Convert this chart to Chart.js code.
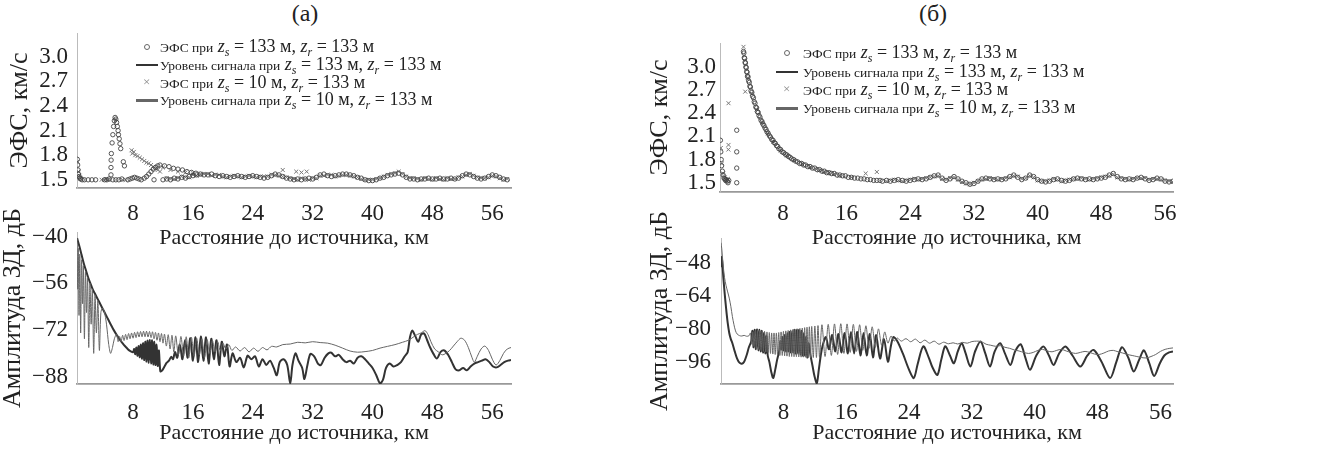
<!DOCTYPE html>
<html>
<head>
<meta charset="utf-8">
<script src="https://cdn.jsdelivr.net/npm/chart.js@4"></script>
<style>
  body { margin: 0; background: #fff; width: 1325px; height: 456px; position: relative; overflow: hidden;
         font-family: "Liberation Serif", "Times New Roman", serif; color: #222; }
  canvas { position: absolute; }
  .ptitle { position: absolute; width: 80px; text-align: center; font-size: 24px; top: 0; }
  .row { position: absolute; white-space: nowrap; font-size: 18px; line-height: 20px; height: 20px; }
  .row .sm { font-size: 13.5px; }
  .row sub { font-size: 12px; line-height: 0; vertical-align: -0.3em; }
  .mk { position: absolute; }
</style>
</head>
<body>
<div class="ptitle" style="left:265px">(а)</div>
<div class="ptitle" style="left:893px">(б)</div>

<canvas id="topA"></canvas>
<canvas id="botA"></canvas>
<canvas id="topB"></canvas>
<canvas id="botB"></canvas>

<div id="legA"></div>
<div id="legB"></div>

<script>
// оси
const xTicks = [8, 16, 24, 32, 40, 48, 56];
const efsTicks = [1.5, 1.8, 2.1, 2.4, 2.7, 3.0];
const ampTicksA = [-88, -72, -56, -40];
const ampTicksB = [-96, -80, -64, -48];

const legendLabels = [
  ['ЭФС при', '133'],
  ['Уровень сигнала при', '133'],
  ['ЭФС при', '10'],
  ['Уровень сигнала при', '10']
];

// (а) ЭФС, zs = 133 м  [км, км/с]
const efsA133 = [
  [0.55,1.75],[0.6,1.68],[0.65,1.62],[0.7,1.57],[0.8,1.54],[0.9,1.52],[1.0,1.51],[1.2,1.5],[1.5,1.5],
  [2.0,1.5],[2.5,1.5],[3.0,1.5],[4.2,1.5],[4.5,1.5],[4.8,1.51],[5.3,1.5],[5.7,1.5],[6.1,1.5],[6.5,1.51],
  [5.05,1.56],[5.05,1.65],[5.07,1.74],[5.1,1.82],[5.2,1.95],[5.3,2.05],[5.4,2.15],[5.5,2.22],[5.6,2.26],
  [5.7,2.24],[5.8,2.2],[5.9,2.15],[6.0,2.1],[6.05,2.05],[6.15,2.0],[6.25,1.94],[6.35,1.88],[6.7,1.72],[6.85,1.67],
  [7.3,1.5],[7.6,1.51],[7.9,1.52],[8.2,1.53],[8.5,1.52],[8.8,1.51],[9.1,1.5],[9.5,1.52],[10.8,1.5],
  [9.8,1.54],[10.1,1.57],[10.4,1.6],[10.7,1.63],[11.0,1.65],[11.3,1.67],[11.6,1.68],
  [12.2,1.67],[12.8,1.66],[13.4,1.64],[14.0,1.63],[14.6,1.62],[15.2,1.6],[15.8,1.59],[16.4,1.58],
  [12.0,1.5],[12.5,1.51],[13.0,1.5],[13.5,1.52],[14.0,1.51],[14.5,1.53],[15.0,1.52],[15.5,1.54],
  [16.0,1.55],[16.5,1.56],[17.0,1.57],[17.5,1.56],[18.0,1.56],[18.5,1.57],[19.0,1.55],[19.5,1.54],
  [20.0,1.55],[20.5,1.54],[21.0,1.53],[21.5,1.54],[22.0,1.55],[22.5,1.54],[23.0,1.53],[23.5,1.54],
  [24.0,1.55],[24.5,1.54],[25.0,1.53],[25.5,1.52],[26.0,1.53],[26.5,1.55],[27.0,1.57],[27.5,1.56],
  [28.0,1.54],[28.5,1.52],[29.0,1.51],[29.5,1.5],[30.0,1.51],[30.5,1.5],[31.0,1.51],[31.5,1.52],
  [32.0,1.51],[32.5,1.53],[33.0,1.56],[33.5,1.57],[34.0,1.55],[34.5,1.54],[35.0,1.55],[35.5,1.56],
  [36.0,1.57],[36.5,1.57],[37.0,1.56],[37.5,1.55],[38.0,1.53],[38.5,1.52],[39.0,1.5],[39.5,1.49],
  [40.0,1.49],[40.5,1.5],[41.0,1.52],[41.5,1.53],[42.0,1.55],[42.5,1.56],[43.0,1.57],[43.5,1.58],
  [44.0,1.56],[44.5,1.53],[45.0,1.51],[45.5,1.51],[46.0,1.5],[46.5,1.51],[47.0,1.51],[47.5,1.52],
  [48.0,1.51],[48.5,1.51],[49.0,1.52],[49.5,1.51],[50.0,1.51],[50.5,1.52],[51.0,1.51],[51.5,1.52],
  [52.0,1.55],[52.5,1.57],[53.0,1.56],[53.5,1.54],[54.0,1.52],[54.5,1.51],[55.0,1.52],[55.5,1.54],
  [56.0,1.56],[56.5,1.55],[57.0,1.53],[57.5,1.51],[58.0,1.5]
];

// (а) ЭФС, zs = 10 м
const efsA10 = [
  [0.6,1.72],[0.7,1.6],[0.85,1.55],[1.0,1.52],[3.8,1.5],[4.1,1.5],[4.4,1.51],[4.7,1.5],[6.6,1.5],[7.0,1.5],
  [7.8,1.86],[7.9,1.82],[8.1,1.84],[8.3,1.8],[8.6,1.79],[8.9,1.77],[9.2,1.75],[9.5,1.73],[9.8,1.71],
  [10.1,1.7],[10.4,1.68],[10.7,1.66],[11.0,1.64],[11.3,1.62],[11.6,1.6],[12.0,1.65],[13.0,1.62],
  [14.0,1.6],[15.0,1.59],[16.0,1.58],[17.0,1.57],
  [28.0,1.62],[29.8,1.6],[30.5,1.59],[31.2,1.6],
  [12.5,1.52],[13.5,1.51],[14.5,1.54],[15.5,1.53],[16.5,1.55],[17.5,1.57],[18.5,1.55],[19.5,1.56],
  [20.5,1.53],[21.5,1.55],[22.5,1.53],[23.5,1.55],[24.5,1.53],[25.5,1.54],[26.5,1.56],[27.5,1.55],
  [28.5,1.53],[29.5,1.51],[30.5,1.52],[31.5,1.5],[32.5,1.52],[33.5,1.55],[34.5,1.56],[35.5,1.55],
  [36.5,1.56],[37.5,1.54],[38.5,1.51],[39.5,1.5],[40.5,1.51],[41.5,1.54],[42.5,1.57],[43.5,1.6],
  [44.5,1.54],[45.5,1.52],[46.5,1.5],[47.5,1.51],[48.5,1.52],[49.5,1.5],[50.5,1.51],[51.5,1.53],
  [52.5,1.56],[53.5,1.55],[54.5,1.52],[55.5,1.53],[56.5,1.54],[57.5,1.5],
  [13,1.51],[14,1.52],[15,1.53],[16,1.56],[17,1.56],[18,1.57],[19,1.56],[20,1.54],[21,1.54],[22,1.54],
  [23,1.54],[24,1.54],[25,1.54],[26,1.54],[27,1.56],[28,1.54],[29,1.52],[30,1.5],[31,1.51],[32,1.52],
  [33,1.55],[34,1.56],[35,1.54],[36,1.56],[37,1.55],[38,1.53],[39,1.5],[40,1.5],[41,1.52],[42,1.56],
  [43,1.58],[44,1.57],[45,1.52],[46,1.51],[47,1.52],[48,1.5],[49,1.51],[50,1.52],[51,1.51],[52,1.54],
  [53,1.57],[54,1.53],[55,1.52],[56,1.55],[57,1.52],[58,1.51]
];

// (а) уровень сигнала, zs = 133 м  [км, дБ]
const sigA133 = [
  [0.52,-40.5],[0.6,-58],[0.68,-44],[0.78,-67],[0.88,-46],[1.0,-73],[1.12,-48],[1.24,-63],[1.36,-50],
  [1.5,-75],[1.64,-52],[1.78,-66],[1.92,-54],[2.08,-78],[2.24,-56],[2.4,-70],[2.56,-58],[2.74,-80],
  [2.92,-60],[3.1,-73],[3.3,-62],[3.5,-79],[3.7,-66],[3.9,-64.5],[4.15,-65.5],[4.45,-70],[4.75,-77],
  [5.0,-80],[5.25,-78],[5.5,-75],[5.8,-73.5],
  [6.0,-76],[6.2,-74.2],[6.4,-76],[6.6,-73.8],[6.8,-75.6],[7.0,-73.5],[7.2,-75.3],[7.4,-73.2],[7.6,-75],
  [7.8,-73],[8.0,-74.8],[8.2,-72.8],[8.4,-74.6],[8.6,-72.6],[8.8,-74.4],[9.0,-72.5],[9.2,-74.3],[9.4,-72.4],
  [9.6,-74.3],[9.8,-72.4],[10.0,-74.4],[10.2,-72.5],[10.4,-74.6],[10.6,-72.6],[10.8,-75],[11.0,-72.8],
  [11.2,-75.5],[11.4,-73],[11.6,-76],[11.8,-73.2],[12.0,-76.5],[12.2,-73.4],[12.45,-77.5],[12.7,-73.6],
  [12.95,-78.5],[13.2,-73.8],[13.45,-79.5],[13.7,-74],
  [14.05,-80.5],[14.4,-74.2],[14.75,-81],[15.1,-74.3],[15.45,-81.5],[15.8,-74.5],[16.15,-81],[16.5,-74.8],
  [16.85,-80.5],[17.2,-75],[17.55,-81.5],[17.9,-75.3],[18.25,-80],[18.6,-75.6],[18.95,-79.5],[19.3,-76],
  [19.65,-79],[20.0,-76.5],[20.4,-78.5],[20.8,-77],[21.2,-79],
  [21.7,-77.8],[22.3,-79.2],[22.9,-78],[23.5,-79.5],[24.1,-78.2],[24.7,-79.3],[25.3,-78],[25.9,-78.8],
  [26.5,-77.6],[27.2,-77.8],[28,-77],[29,-76.8],[30,-76.2],[31,-76.4],[32,-76],[33,-76.3],[34,-76.5],
  [35,-77.2],[36,-78.2],[37,-79.2],[38,-79.6],[39,-79.4],[40,-79],[41,-78.2],[42,-77.6],[43,-77],
  [44,-76.2],[44.8,-75.5],[45.4,-74.5],[46,-73.5],[46.5,-73],[47,-72.2],[47.4,-73.5],[47.8,-76],
  [48.3,-78.5],[48.8,-79.5],[49.3,-80.5],[49.8,-80],[50.3,-79],[50.8,-77.5],[51.3,-76],[51.8,-74.8],
  [52.3,-75.5],[52.8,-78],[53.3,-81.5],[53.6,-83],[54.0,-81],[54.5,-78.5],[55.0,-77.5],[55.5,-79],
  [56.0,-82],[56.5,-84],[57.0,-82.5],[57.5,-80],[58.0,-78.5],[58.5,-78]
];

// (а) уровень сигнала, zs = 10 м
const sigA10 = [
  [0.52,-40.5],[0.8,-43],[1.1,-46],[1.4,-49],[1.7,-51.5],[2.0,-54],[2.3,-56],[2.6,-58],[2.9,-59.5],
  [3.2,-61],[3.5,-62.5],[3.8,-64],[4.1,-65.5],[4.4,-67],[4.7,-68.5],[5.0,-70],[5.3,-71.5],[5.6,-72.8],
  [5.9,-74],[6.2,-75.2],[6.5,-76.2],[6.8,-77.2],[7.1,-78],[7.4,-78.8],[7.7,-79.3],[8.0,-79.6],
  [8.15,-78.5],[8.3,-80.3],[8.45,-78],[8.6,-80.8],[8.75,-77.5],[8.9,-81.3],[9.05,-77],[9.2,-81.8],
  [9.35,-76.5],[9.5,-82.3],[9.65,-76],[9.8,-82.8],[9.95,-75.6],[10.1,-83.2],[10.25,-75.4],[10.4,-83.5],
  [10.55,-75.5],[10.7,-83.8],[10.85,-76],[11.0,-84],[11.15,-77],[11.3,-84.3],[11.45,-79],
  [11.65,-86.2],[11.9,-85.8],[12.2,-84.5],[12.5,-83.2],[12.8,-82.5],[13.1,-81.2],[13.35,-82],[13.6,-79.5],
  [13.9,-81.5],[14.25,-77],[14.6,-82],[14.95,-75.5],[15.3,-81.5],[15.65,-74.8],[16.0,-82.5],[16.35,-74.5],
  [16.7,-83],[17.05,-74.2],[17.4,-82.5],[17.75,-74.5],[18.1,-83.5],[18.45,-75],[18.8,-82],[19.15,-75.5],
  [19.5,-84],[19.85,-76],[20.2,-81],[20.55,-77],[20.9,-84.5],
  [21.3,-80],[21.8,-83],[22.3,-81.5],[22.8,-84.8],[23.3,-80.8],[23.8,-82],[24.3,-81],[24.8,-84.5],
  [25.3,-82],[25.8,-84],[26.3,-82.5],[26.8,-85],[27.2,-87.5],[27.6,-83],[28.1,-82],[28.6,-84],[29.0,-90.3],
  [29.3,-84],[29.7,-80],[30.1,-82.5],[30.6,-85],[30.9,-88.8],[31.3,-84],[31.7,-80.2],[32.2,-81],[32.7,-83.5],
  [33.1,-84],[33.6,-81.5],[34.1,-80],[34.5,-79.8],[35.0,-81],[35.5,-80.5],[36.0,-82],[36.5,-83],[37.0,-82.5],
  [37.5,-83.5],[38.0,-81.5],[38.5,-81],[39.0,-82],[39.5,-83.5],[40.0,-85],[40.5,-87.5],[41.0,-90.3],
  [41.4,-89],[41.8,-85],[42.3,-83.5],[42.8,-84.5],[43.3,-84],[43.8,-83],[44.3,-81],[44.7,-79.5],[45.0,-74.5],
  [45.3,-72.2],[45.7,-74],[46.1,-76],[46.5,-73.5],[46.9,-73.2],[47.3,-75.5],[47.7,-78],[48.1,-80],
  [48.6,-81.8],[49.1,-79.5],[49.6,-79],[50.1,-80.5],[50.6,-83],[51.1,-85.5],[51.6,-85.8],[52.1,-85],
  [52.6,-85.8],[53.1,-84.5],[53.6,-83.5],[54.1,-83],[54.6,-82.5],[55.1,-82],[55.6,-83],[56.1,-84.5],
  [56.6,-84.8],[57.1,-84],[57.6,-83],[58.1,-82.5],[58.5,-82.3]
];

// (б) ЭФС, zs = 133 м
const efsB133 = [
  [0.15,2.05],[0.2,1.9],[0.25,1.8],[0.3,1.72],[0.4,1.65],[0.5,1.6],[0.6,1.56],[0.7,1.55],[0.8,1.53],
  [0.9,1.54],[1.0,1.52],[1.1,1.5],[1.2,1.53],
  [2.2,2.18],[2.2,1.9],[2.2,1.69],[2.2,1.5],
  [3.05,3.2],[3.15,3.12],[3.25,3.06],[3.35,3.0],[3.45,2.94],[3.55,2.88],[3.7,2.82],[3.85,2.75],[4.0,2.69],
  [4.2,2.62],[4.4,2.55],[4.6,2.48],[4.8,2.42],[5.0,2.37],[5.25,2.31],[5.5,2.26],[5.75,2.21],[6.0,2.16],
  [6.3,2.11],[6.6,2.06],[6.9,2.02],[7.2,1.98],[7.5,1.94],[7.9,1.9],[8.3,1.87],[8.7,1.84],[9.1,1.81],
  [9.6,1.78],[10.1,1.75],[10.6,1.73],[11.1,1.71],[11.7,1.69],[12.3,1.67],[12.9,1.65],[13.5,1.63],
  [14.1,1.62],[14.8,1.6],[15.5,1.59],[16.2,1.57],[17.0,1.56],[17.8,1.55],[18.6,1.54],[19.4,1.53],[20.2,1.53],
  [3.1,3.18],[3.2,3.11],[3.3,3.05],[3.4,2.99],[3.5,2.93],[3.62,2.87],[3.78,2.8],[3.92,2.74],[4.1,2.67],
  [4.3,2.6],[4.5,2.53],[4.7,2.47],[4.9,2.41],[5.12,2.35],[5.38,2.29],[5.62,2.24],[5.88,2.19],[6.15,2.14],
  [6.45,2.09],[6.75,2.05],[7.05,2.01],[7.35,1.97],[7.7,1.93],[8.1,1.89],[8.5,1.86],[8.9,1.83],[9.35,1.8],
  [9.85,1.77],[10.35,1.75],[10.85,1.73],[11.4,1.71],[12.0,1.69],[12.6,1.67],[13.2,1.65],[13.8,1.63],
  [14.45,1.62],[15.15,1.6],[15.85,1.59],[16.6,1.57],[17.4,1.56],[18.2,1.55],[19.0,1.54],[19.8,1.53],
  [20.5,1.52],[21,1.53],[21.5,1.52],[22,1.53],[22.5,1.54],[23,1.53],[23.5,1.52],[24,1.53],[24.5,1.54],
  [25,1.55],[25.5,1.54],[26,1.55],[26.5,1.57],[27,1.59],[27.5,1.6],[28,1.56],[28.5,1.53],[29,1.55],
  [29.5,1.58],[30,1.55],[30.5,1.52],[31,1.5],[31.5,1.48],[32,1.49],[32.5,1.52],[33,1.55],[33.5,1.56],
  [34,1.55],[34.5,1.54],[35,1.55],[35.5,1.54],[36,1.55],[36.5,1.58],[37,1.6],[37.5,1.57],[38,1.54],
  [38.5,1.56],[39,1.6],[39.5,1.58],[40,1.54],[40.5,1.52],[41,1.51],[41.5,1.52],[42,1.54],[42.5,1.55],
  [43,1.53],[43.5,1.52],[44,1.53],[44.5,1.55],[45,1.56],[45.5,1.55],[46,1.54],[46.5,1.55],[47,1.54],
  [47.5,1.55],[48,1.56],[48.5,1.57],[49,1.6],[49.5,1.62],[50,1.58],[50.5,1.55],[51,1.54],[51.5,1.55],
  [52,1.54],[52.5,1.56],[53,1.57],[53.5,1.55],[54,1.53],[54.5,1.54],[55,1.56],[55.5,1.55],[56,1.52],
  [56.5,1.51],[57,1.52]
];

// (б) ЭФС, zs = 10 м
const efsB10 = [
  [0.2,1.95],[0.35,1.75],[0.5,1.62],[0.7,1.57],[0.9,1.53],[1.1,1.55],
  [1.17,2.53],[1.17,1.99],[1.15,1.93],[3.05,3.26],[3.27,2.68],
  [3.6,2.86],[4.1,2.65],[4.7,2.45],[5.4,2.28],[6.1,2.14],[6.8,2.03],[7.7,1.92],[8.5,1.85],[9.4,1.79],
  [10.4,1.74],[11.4,1.7],[12.6,1.66],[13.2,1.64],[13.8,1.63],[14.4,1.61],[15.1,1.59],[16.6,1.57],
  [18.4,1.62],[19.8,1.64],
  [21,1.52],[22,1.54],[23,1.52],[24,1.54],[25,1.54],[26,1.56],[27,1.58],[28,1.55],[29,1.56],[30,1.54],
  [31,1.49],[32,1.5],[33,1.54],[34,1.56],[35,1.54],[36,1.56],[37,1.59],[38,1.55],[39,1.59],[40,1.53],
  [41,1.52],[42,1.55],[43,1.52],[44,1.54],[45,1.55],[46,1.55],[47,1.55],[48,1.57],[49,1.59],[50,1.57],
  [51,1.55],[52,1.55],[53,1.56],[54,1.54],[55,1.55],[56,1.53],[57,1.51],
  [21.5,1.53],[22.5,1.53],[23.5,1.53],[24.5,1.55],[25.5,1.55],[26.5,1.57],[27.5,1.59],[28.5,1.54],
  [29.5,1.57],[30.5,1.51],[31.5,1.48],[32.5,1.52],[33.5,1.55],[34.5,1.55],[35.5,1.55],[36.5,1.57],
  [37.5,1.58],[38.5,1.56],[39.5,1.57],[40.5,1.52],[41.5,1.53],[42.5,1.54],[43.5,1.53],[44.5,1.55],
  [45.5,1.56],[46.5,1.54],[47.5,1.56],[48.5,1.58],[49.5,1.61],[50.5,1.56],[51.5,1.54],[52.5,1.56],
  [53.5,1.56],[54.5,1.55],[55.5,1.54],[56.5,1.52]
];

// (б) уровень сигнала, zs = 133 м
const sigB133 = [
  [0.05,-38],[0.15,-41],[0.3,-48],[0.5,-55],[0.7,-59],[0.9,-62],[1.1,-65],[1.3,-69],[1.5,-74],[1.7,-78],
  [1.9,-81],[2.1,-82.5],[2.4,-83.3],[2.7,-83.5],[3.0,-83.2],[3.3,-83.6],[3.6,-83.4],
  [3.8,-82],[3.95,-87.5],[4.1,-81.5],[4.25,-88.5],[4.4,-81],[4.55,-89.5],[4.7,-80.8],[4.85,-90],[5.0,-80.8],
  [5.15,-90.5],[5.3,-81],[5.45,-91],[5.6,-81.2],[5.75,-91.3],[5.9,-81.5],[6.05,-91.5],[6.2,-81.8],[6.35,-92],
  [6.5,-82],[6.65,-92.3],[6.8,-82],[6.95,-92.5],[7.1,-82],[7.25,-92.7],[7.4,-81.8],[7.55,-93],[7.7,-81.5],
  [7.85,-93],[8.0,-81.2],[8.15,-93.2],[8.3,-81],[8.45,-93.3],[8.6,-80.8],[8.75,-93.5],[8.9,-80.5],[9.05,-93.5],
  [9.2,-80.3],[9.35,-93.6],[9.5,-80.2],[9.65,-93.6],[9.8,-80],[9.95,-93.7],[10.1,-79.8],[10.25,-93.8],
  [10.4,-79.6],[10.55,-93.8],[10.7,-79.4],[10.85,-93.9],[11.0,-79.2],[11.15,-94],[11.3,-79],[11.45,-94],
  [11.6,-78.8],[11.8,-94],[12.0,-78.6],[12.2,-94],[12.4,-78.4],[12.6,-94],
  [12.9,-78],[13.3,-93.5],[13.7,-77.8],[14.1,-93],[14.5,-77.6],[14.9,-92.5],[15.3,-77.5],[15.7,-92],
  [16.1,-77.6],[16.5,-91.5],[16.9,-77.8],[17.3,-91],[17.7,-78],[18.1,-90.5],[18.5,-78.5],[18.9,-89.5],
  [19.3,-79],[19.7,-89],[20.1,-80],[20.5,-88],[20.9,-81.5],[21.3,-87],[21.7,-83.5],[22.1,-86],
  [22.5,-84.5],[23.0,-86],[23.6,-84.8],[24.2,-86.3],[24.8,-85],[25.4,-86.8],[26.0,-85.5],[26.6,-87],
  [27.2,-86],[27.8,-87.5],[28.4,-86.5],[29.0,-87.3],[29.6,-86.8],[30.2,-87.4],[30.8,-86.6],[31.4,-87],
  [32.0,-86.2],[32.6,-86],[33.2,-86.2],[33.8,-87.5],[34.4,-88],[35.0,-88.5],[35.6,-88.2],[36.2,-89],
  [36.8,-89.5],[37.4,-90.3],[38.0,-90.8],[38.6,-91.5],[39.2,-92],[39.8,-91.5],[40.4,-90.5],[41.0,-90],
  [41.6,-90.8],[42.2,-91.2],[42.8,-90.5],[43.4,-90],[44.0,-90.8],[44.6,-91.5],[45.2,-92],[45.8,-91.5],
  [46.4,-91],[47.0,-91.5],[47.6,-92.3],[48.2,-92.5],[48.8,-91.8],[49.4,-90.8],[50.0,-90.5],[50.6,-91.2],
  [51.2,-91.8],[51.8,-92.5],[52.4,-93],[53.0,-93.5],[53.6,-94],[54.2,-94.2],[54.8,-93.5],[55.4,-92.5],
  [56.0,-91],[56.6,-90],[57.2,-89.5],[57.6,-89.3]
];

// (б) уровень сигнала, zs = 10 м
const sigB10 = [
  [0.05,-50],[0.1,-45],[0.2,-47],[0.35,-55],[0.5,-62],[0.7,-70],[0.9,-77],[1.1,-82],[1.3,-85],[1.5,-87],
  [1.8,-91],[2.1,-94.5],[2.4,-96.5],[2.7,-97],[3.0,-96],[3.3,-93],[3.6,-89],[3.9,-86],
  [4.05,-81],[4.2,-89],[4.35,-80.5],[4.5,-90],[4.65,-80.3],[4.8,-90.5],[4.95,-80.5],[5.1,-91],[5.25,-81],
  [5.4,-91.5],[5.55,-82],[5.7,-92],[5.85,-83.5],[6.0,-93],
  [6.2,-96],[6.45,-101],[6.7,-104],[6.95,-100],[7.2,-95],[7.45,-91],
  [7.6,-86],[7.75,-90],[7.9,-84],[8.05,-90.5],[8.2,-83],[8.35,-91],[8.5,-82],[8.65,-91],[8.8,-81.5],
  [8.95,-91.5],[9.1,-81],[9.25,-91.5],[9.4,-80.5],[9.55,-92],[9.7,-80.3],[9.85,-92],[10.0,-80.5],
  [10.15,-92.5],[10.3,-81],[10.45,-93],[10.6,-82],[10.75,-93],[10.9,-84],[11.05,-94],[11.2,-87],
  [11.45,-93],[11.7,-98],[11.95,-103],[12.25,-106.5],[12.5,-100],[12.75,-93],[13.0,-88],
  [13.4,-84],[13.8,-90],[14.2,-83],[14.6,-91],[15.0,-82.5],[15.4,-91.5],[15.8,-82],[16.2,-92],[16.6,-81.5],
  [17.0,-92],[17.4,-81.5],[17.8,-93],[18.2,-82],[18.6,-93],[19.0,-82.5],[19.4,-94],[19.8,-83],[20.3,-94.5],
  [20.8,-85],[21.3,-96],[21.7,-88],[22.0,-84],
  [22.5,-86],[23.2,-92],[24.0,-100],[24.6,-104],[25.1,-97],[25.8,-88.5],[26.5,-94],[27.0,-99],[27.6,-102.5],
  [28.1,-95],[28.6,-88.5],[29.2,-93],[29.7,-96.8],[30.2,-91],[30.7,-87],[31.2,-92],[31.8,-98.4],[32.4,-91],
  [33.1,-86.2],[33.7,-92],[34.3,-98.4],[34.9,-91],[35.6,-87],[36.2,-92],[36.9,-97.6],[37.5,-91],[38.2,-87.5],
  [38.8,-94],[39.4,-100],[40.2,-93],[41.1,-88.6],[41.8,-93],[42.4,-97.6],[43.1,-92],[43.9,-88.6],[44.8,-93],
  [45.8,-98.4],[46.7,-93],[47.5,-90.3],[48.5,-96],[49.6,-104],[50.4,-96],[51.1,-89],[51.9,-94],[52.6,-100.8],
  [53.3,-95],[53.9,-90.5],[54.6,-97],[55.2,-103],[55.9,-97],[56.5,-93],[57.1,-91.5],[57.6,-91]
];

const FONT = '"Liberation Serif", "Times New Roman", serif';
const pts = arr => arr.map(p => ({ x: p[0], y: p[1] }));

function circles(arr) {
  return { data: pts(arr), showLine: false, pointStyle: 'circle', pointRadius: 2.2,
           borderColor: '#444', borderWidth: 0.9, backgroundColor: 'rgba(0,0,0,0)' };
}
function crosses(arr) {
  return { data: pts(arr), showLine: false, pointStyle: 'crossRot', pointRadius: 2.8,
           borderColor: '#777', borderWidth: 1, backgroundColor: 'rgba(0,0,0,0)' };
}
function line(arr, color, w) {
  return { data: pts(arr), showLine: true, pointRadius: 0, borderColor: color, borderWidth: w,
           tension: 0.3, fill: false };
}

function build(id, g, datasets) {
  const cv = document.getElementById(id);
  const [L, T, W, H] = g.box;
  const [aL, aT, aR, aB] = g.area;
  cv.style.left = L + 'px';
  cv.style.top = T + 'px';
  cv.width = W;
  cv.height = H;
  return new Chart(cv, {
    type: 'scatter',
    data: { datasets },
    options: {
      responsive: false,
      animation: false,
      events: [],
      layout: { padding: { left: 0, top: aT - T, right: L + W - aR, bottom: 0 } },
      plugins: { legend: { display: false }, tooltip: { enabled: false } },
      scales: {
        x: {
          type: 'linear', min: g.x[0], max: g.x[1],
          afterFit: s => { s.height = T + H - aB; },
          afterBuildTicks: s => { s.ticks = xTicks.map(v => ({ value: v })); },
          grid: { display: false, drawTicks: false },
          border: { display: true, color: '#999', width: 1.8 },
          ticks: { padding: g.xPad, color: '#222', autoSkip: false, maxRotation: 0,
                   font: { family: FONT, size: 23 } },
          title: { display: true, text: 'Расстояние до источника, км', color: '#222',
                   font: { family: FONT, size: 22 }, padding: { top: 0, bottom: g.xTitlePad } }
        },
        y: {
          type: 'linear', min: g.y[0], max: g.y[1],
          afterFit: s => { s.width = aL - L; },
          afterBuildTicks: s => { s.ticks = g.yTicks.map(v => ({ value: v })); },
          grid: { display: false, drawTicks: false },
          border: { display: true, color: '#bbb', width: 1 },
          ticks: { padding: g.yPad, color: '#222', autoSkip: false, callback: g.fmt,
                   font: { family: FONT, size: 23 } },
          title: { display: true, text: g.yTitle, color: '#222',
                   font: { family: FONT, size: 26, lineHeight: 1 }, padding: { top: g.yTitlePad, bottom: 0 } }
        }
      }
    }
  });
}

const fmtEfs = v => v.toFixed(1);
const fmtAmp = v => (v < 0 ? '\u2212' : '') + Math.abs(v);

build('topA', { box: [0, 0, 525, 252], area: [77, 33, 511, 188], x: [0.51, 58.5], y: [1.40, 3.29],
  yTicks: efsTicks, fmt: fmtEfs, yTitle: 'ЭФС, км/с', xPad: 12, yPad: 9, xTitlePad: 1, yTitlePad: 7 },
  [circles(efsA133), crosses(efsA10)]);

build('botA', { box: [0, 196, 525, 260], area: [77, 232, 511, 384], x: [0.51, 58.5], y: [-90.5, -38.4],
  yTicks: ampTicksA, fmt: fmtAmp, yTitle: 'Амплитуда ЗД, дБ', xPad: 15, yPad: 9, xTitlePad: 10, yTitlePad: 0 },
  [line(sigA133, '#666', 1), line(sigA10, '#333', 2)]);

build('topB', { box: [636, 0, 689, 252], area: [720, 43, 1173, 192], x: [0.1, 57.0], y: [1.38, 3.31],
  yTicks: efsTicks, fmt: fmtEfs, yTitle: 'ЭФС, км/с', xPad: 8, yPad: 4, xTitlePad: 1, yTitlePad: 11 },
  [circles(efsB133), crosses(efsB10)]);

build('botB', { box: [636, 196, 689, 260], area: [721, 238, 1173, 384], x: [0.05, 57.6], y: [-106.9, -35.7],
  yTicks: ampTicksB, fmt: fmtAmp, yTitle: 'Амплитуда ЗД, дБ', xPad: 15, yPad: 10, xTitlePad: 10, yTitlePad: 11 },
  [line(sigB133, '#666', 1), line(sigB10, '#333', 2)]);

// легенды
function legend(el, markX, textX, rowsY) {
  const kinds = ['circle', 'thin', 'cross', 'thick'];
  let html = '';
  legendLabels.forEach((lab, i) => {
    const y = rowsY[i];
    let mk = '';
    if (kinds[i] === 'circle') {
      mk = `<span class="mk" style="left:${markX - 3}px;top:${y - 3}px;width:4px;height:4px;border:1px solid #666;border-radius:50%"></span>`;
    } else if (kinds[i] === 'cross') {
      mk = `<span class="mk" style="left:${markX - 4}px;top:${y - 9}px;font-size:13px;line-height:16px;color:#888">×</span>`;
    } else {
      const h = kinds[i] === 'thin' ? 1.5 : 3;
      mk = `<span class="mk" style="left:${markX - 11}px;top:${y - h / 2}px;width:22px;height:${h}px;background:${kinds[i] === 'thin' ? '#333' : '#666'}"></span>`;
    }
    html += mk + `<div class="row" style="left:${textX}px;top:${y - 11}px"><span class="sm">${lab[0]}</span> ` +
      `<i>z<sub>s</sub></i> = ${lab[1]} м, <i>z<sub>r</sub></i> = 133 м</div>`;
  });
  document.getElementById(el).innerHTML = html;
}
legend('legA', 147, 160, [47, 65, 83, 100]);
legend('legB', 787, 803, [53, 72, 90, 108]);
</script>
</body>
</html>
